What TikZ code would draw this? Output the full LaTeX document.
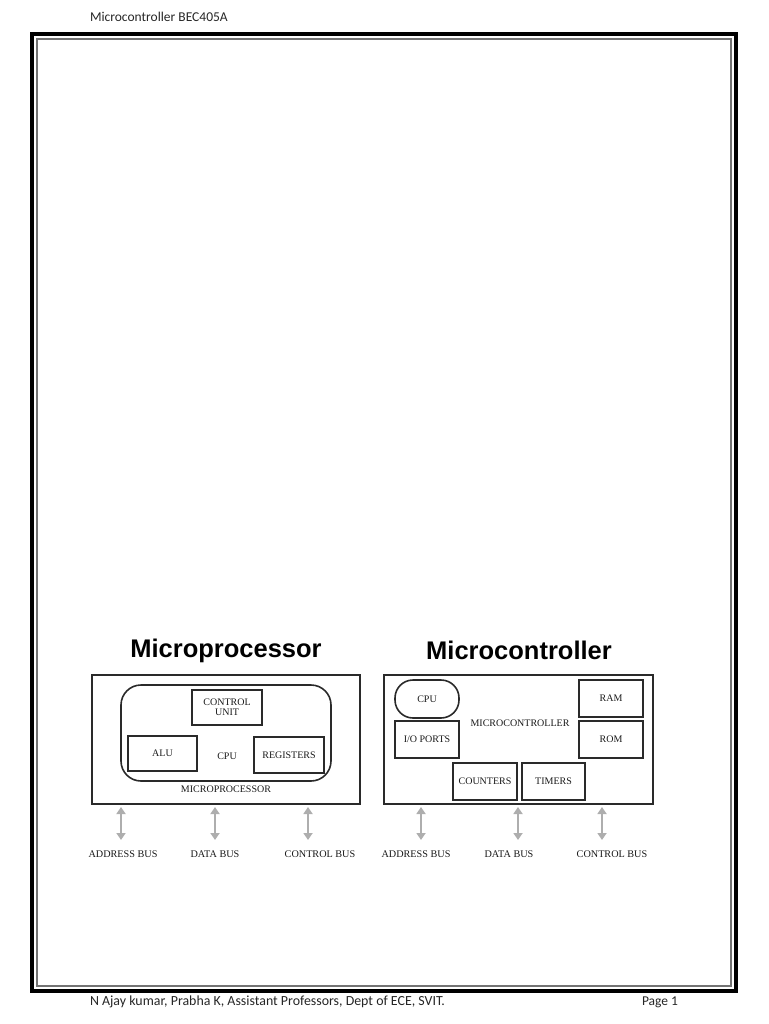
\documentclass[tikz,border=0pt]{standalone}
\usepackage{fontspec}
\setmainfont{Liberation Serif}
\newfontfamily\hdrfont{Carlito}
\newfontfamily\ttlfont{Liberation Sans}
\usetikzlibrary{arrows.meta}
\definecolor{boxline}{HTML}{2A2A2A}
\definecolor{busgray}{HTML}{AEAEAE}
\tikzset{
  every node/.style={inner sep=0pt, outer sep=0pt},
  blk/.style={draw=boxline, line width=1.6pt, minimum width=#1},
  lbl/.style={font=\fontsize{10}{11}\selectfont, text=black!90},
  buslbl/.style={font=\fontsize{10.2}{11}\selectfont, text=black!90},
  title/.style={font=\ttlfont\bfseries\fontsize{25.5}{28}\selectfont, anchor=base},
  busarrow/.style={draw=busgray, line width=2.6pt, {Triangle[length=7pt,width=9pt]}-{Triangle[length=7pt,width=9pt]}},
  hdr/.style={font=\hdrfont\fontsize{13.5}{15}\selectfont, text=black!85, anchor=west},
}
\begin{document}
\begin{tikzpicture}[x=1pt,y=-1pt]
\useasboundingbox (0,0) rectangle (768,1024);
% page frame
\draw[line width=4pt, black] (32,34) rectangle (736,991);
\draw[line width=1.1pt, black!55] (37,39) rectangle (731,986);
\node[hdr] (hdr) at (90,17) {Microcontroller BEC405A};
\node[hdr, font=\hdrfont\fontsize{13.9}{15}\selectfont] (ftr) at (90,1002) {N Ajay kumar, Prabha K, Assistant Professors, Dept of ECE, SVIT.};
\node[hdr] (pg) at (642,1002) {Page 1};

% ---------- Microprocessor ----------
\node[title] (t1) at (226,657) {Microprocessor};
\node[blk=268pt, minimum height=129pt, line width=1.4pt] (mpouter) at (226,739.5) {};
\node[blk=210pt, minimum height=96pt, rounded corners=20pt] (mpcpu) at (226,733) {};
\node[blk=70pt, minimum height=35pt, lbl, align=center] (cu) at (227,707.5) {CONTROL\\[-1pt]UNIT};
\node[blk=69pt, minimum height=35pt, lbl] (alu) at (162.5,753.5) {ALU};
\node[blk=70pt, minimum height=36pt, lbl] (reg) at (289,755) {REGISTERS};
\node[lbl] (cputxt) at (227,756) {CPU};
\node[lbl] (mptxt) at (226,789) {MICROPROCESSOR};

\coordinate (p1a) at (121,807); \coordinate (p1b) at (121,840);
\coordinate (p2a) at (215,807); \coordinate (p2b) at (215,840);
\coordinate (p3a) at (308,807); \coordinate (p3b) at (308,840);
\draw[busarrow] (p1a) -- (p1b);
\draw[busarrow] (p2a) -- (p2b);
\draw[busarrow] (p3a) -- (p3b);
\node[buslbl] (pl1) at (123,854) {ADDRESS BUS};
\node[buslbl] (pl2) at (215,854) {DATA BUS};
\node[buslbl] (pl3) at (320,854) {CONTROL BUS};

% ---------- Microcontroller ----------
\node[title] (t2) at (519,659) {Microcontroller};
\node[blk=269pt, minimum height=129pt, line width=1.4pt] (mcouter) at (518.5,739.5) {};
\node[blk=64pt, minimum height=38pt, rounded corners=18pt, lbl] (cpu2) at (427,699) {CPU};
\node[blk=64pt, minimum height=37pt, lbl] (io) at (427,739.5) {I/O PORTS};
\node[lbl] (mctxt) at (520,723) {MICROCONTROLLER};
\node[blk=64pt, minimum height=37pt, lbl] (ram) at (611,698.5) {RAM};
\node[blk=64pt, minimum height=37pt, lbl] (rom) at (611,739.5) {ROM};
\node[blk=64pt, minimum height=37pt, lbl] (cnt) at (485,781.5) {COUNTERS};
\node[blk=63pt, minimum height=37pt, lbl] (tim) at (553.5,781.5) {TIMERS};

\coordinate (c1a) at (421,807); \coordinate (c1b) at (421,840);
\coordinate (c2a) at (518,807); \coordinate (c2b) at (518,840);
\coordinate (c3a) at (602,807); \coordinate (c3b) at (602,840);
\draw[busarrow] (c1a) -- (c1b);
\draw[busarrow] (c2a) -- (c2b);
\draw[busarrow] (c3a) -- (c3b);
\node[buslbl] (cl1) at (416,854) {ADDRESS BUS};
\node[buslbl] (cl2) at (509,854) {DATA BUS};
\node[buslbl] (cl3) at (612,854) {CONTROL BUS};
\end{tikzpicture}
\end{document}
